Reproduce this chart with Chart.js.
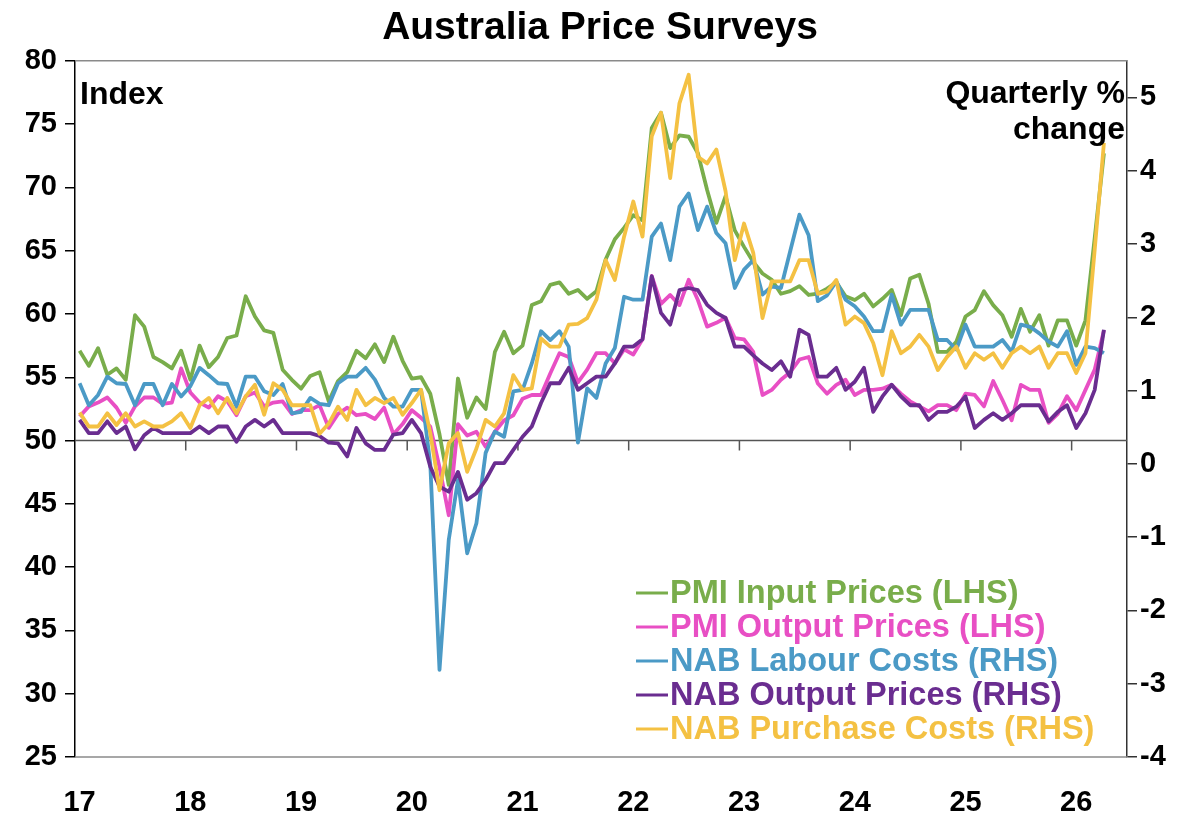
<!DOCTYPE html>
<html>
<head>
<meta charset="utf-8">
<title>Australia Price Surveys</title>
<script src="https://cdn.jsdelivr.net/npm/chart.js@4.4.1/dist/chart.umd.min.js"></script>
<style>
    body { margin: 0; background: #ffffff; }
    #wrap { width: 1200px; height: 837px; }
</style>
</head>
<body>
<div id="wrap"><canvas id="chart" width="1200" height="837"></canvas></div>
<script>
const FONT = '"Liberation Sans", Arial, sans-serif'

// x categories: Jan 2017 .. Jun 2026, year shown on January only
const month_names = ['Jan', 'Feb', 'Mar', 'Apr', 'May', 'Jun', 'Jul', 'Aug', 'Sep', 'Oct', 'Nov', 'Dec']
const year_labels = ['17', '18', '19', '20', '21', '22', '23', '24', '25', '26']
const last_year_months = 6

let months = []
year_labels.forEach((yy, y) => {
    let n = y === year_labels.length - 1 ? last_year_months : 12
    for (let m = 0; m < n; m++) {
        months.push(`${month_names[m]}-${yy}`)
    }
})

// PMI, index (LHS)
const pmi_input = [
    57.1, 55.9, 57.3, 55.2, 55.7, 54.8, 59.9, 59.0, 56.6, 56.2, 55.7, 57.1,
    54.8, 57.5, 55.8, 56.6, 58.1, 58.3, 61.4, 59.8, 58.7, 58.5, 55.6, 54.8,
    54.1, 55.1, 55.4, 53.1, 54.7, 55.4, 57.1, 56.5, 57.6, 56.2, 58.2, 56.3,
    54.9, 55.0, 53.7, 50.5, 46.5, 54.9, 51.8, 53.4, 52.5, 57.0, 58.6, 56.9,
    57.5, 60.7, 61.0, 62.3, 62.5, 61.6, 61.9, 61.2, 61.8, 64.3, 65.9, 66.8,
    67.8, 67.4, 74.7, 75.9, 73.1, 74.1, 74.0, 72.7, 69.8, 67.2, 69.3, 66.6,
    65.3, 64.1, 63.2, 62.7, 61.6, 61.8, 62.2, 61.5, 61.6, 62.0, 62.5, 61.4,
    61.1, 61.6, 60.6, 61.2, 61.9, 59.9, 62.8, 63.1, 60.8, 57.0, 57.0, 57.8,
    59.8, 60.3, 61.8, 60.7, 59.9, 58.2, 60.4, 58.6, 59.9, 57.5, 59.5, 59.5,
    57.5, 59.5, 66.0, 72.7
]
const pmi_output = [
    51.9, 52.7, 53.0, 53.4, 52.6, 51.4, 52.7, 53.4, 53.4, 52.9, 53.0, 55.7,
    53.8, 53.0, 52.6, 53.5, 53.1, 52.0, 53.5, 53.8, 52.7, 53.0, 53.1, 52.1,
    52.4, 52.4, 52.8, 51.0, 52.1, 52.6, 52.0, 52.1, 51.7, 52.6, 50.5, 51.3,
    52.4, 51.8, 51.1, 47.9, 44.1, 51.3, 50.4, 50.7, 49.5, 50.7, 51.6, 52.0,
    53.3, 53.6, 53.6, 55.3, 56.9, 56.6, 54.6, 55.6, 56.9, 56.9, 56.1, 57.2,
    56.8, 58.0, 63.0, 60.8, 61.5, 60.7, 62.7, 61.1, 59.0, 59.3, 59.7, 58.1,
    58.0, 57.0, 53.6, 54.0, 54.8, 55.4, 56.4, 56.6, 54.5, 53.7, 54.4, 54.8,
    53.6, 54.0, 54.0, 54.1, 54.4, 53.7, 53.1, 52.7, 52.3, 52.8, 52.8, 52.4,
    53.7, 53.6, 52.7, 54.7, 53.2, 51.6, 54.4, 54.0, 54.0, 51.4, 52.1, 53.5,
    52.4, 54.0, 55.6, 58.7
]

// NAB survey, quarterly % change (RHS)
const nab_labour = [
    1.10, 0.80, 0.94, 1.19, 1.10, 1.09, 0.80, 1.09, 1.09, 0.80, 1.09, 0.92,
    1.06, 1.31, 1.21, 1.10, 1.09, 0.78, 1.19, 1.19, 0.99, 0.94, 1.09, 0.69,
    0.71, 0.90, 0.82, 0.80, 1.10, 1.19, 1.19, 1.31, 1.15, 0.90, 0.78, 0.78,
    1.01, 1.01, 0.00, -2.81, -1.04, -0.22, -1.22, -0.81, 0.15, 0.44, 0.37, 0.99,
    1.01, 1.37, 1.81, 1.69, 1.81, 1.60, 0.29, 1.03, 0.90, 1.37, 1.58, 2.28,
    2.24, 2.24, 3.10, 3.28, 2.78, 3.51, 3.69, 3.19, 3.51, 3.15, 3.01, 2.40,
    2.65, 2.78, 2.31, 2.42, 2.40, 2.90, 3.40, 3.12, 2.22, 2.30, 2.49, 2.24,
    2.15, 2.01, 1.81, 1.81, 2.31, 1.90, 2.10, 2.10, 2.10, 1.69, 1.69, 1.56,
    1.90, 1.60, 1.60, 1.60, 1.69, 1.53, 1.90, 1.87, 1.78, 1.67, 1.60, 1.81,
    1.35, 1.60, 1.58, 1.51
]
const nab_output = [
    0.60, 0.42, 0.42, 0.58, 0.42, 0.51, 0.20, 0.39, 0.49, 0.42, 0.42, 0.42,
    0.42, 0.51, 0.42, 0.51, 0.51, 0.30, 0.51, 0.60, 0.51, 0.60, 0.42, 0.42,
    0.42, 0.42, 0.38, 0.29, 0.28, 0.10, 0.49, 0.28, 0.19, 0.19, 0.40, 0.42,
    0.60, 0.42, -0.04, -0.31, -0.38, -0.11, -0.49, -0.40, -0.22, 0.01, 0.01, 0.19,
    0.37, 0.51, 0.83, 1.10, 1.10, 1.31, 1.01, 1.10, 1.19, 1.19, 1.37, 1.60,
    1.60, 1.70, 2.56, 2.06, 1.90, 2.37, 2.40, 2.37, 2.17, 2.06, 1.99, 1.60,
    1.60, 1.48, 1.37, 1.28, 1.40, 1.19, 1.83, 1.76, 1.19, 1.19, 1.31, 1.01,
    1.12, 1.31, 0.71, 0.92, 1.08, 0.92, 0.80, 0.80, 0.60, 0.71, 0.71, 0.78,
    0.92, 0.49, 0.60, 0.69, 0.60, 0.69, 0.80, 0.80, 0.80, 0.58, 0.71, 0.80,
    0.49, 0.69, 1.01, 1.83
]
const nab_purchase = [
    0.70, 0.51, 0.51, 0.69, 0.53, 0.69, 0.51, 0.58, 0.51, 0.51, 0.58, 0.69,
    0.49, 0.80, 0.90, 0.69, 0.90, 0.69, 0.92, 1.08, 0.67, 1.10, 1.01, 0.80,
    0.80, 0.80, 0.41, 0.55, 0.78, 0.60, 1.01, 0.80, 0.90, 0.83, 0.90, 0.67,
    0.83, 1.01, 0.42, -0.36, 0.28, 0.42, -0.11, 0.21, 0.60, 0.51, 0.69, 1.21,
    1.01, 1.03, 1.71, 1.60, 1.60, 1.90, 1.91, 1.99, 2.24, 2.78, 2.51, 3.10,
    3.58, 3.10, 4.47, 4.79, 3.90, 4.92, 5.31, 4.19, 4.10, 4.29, 3.72, 2.78,
    3.28, 2.88, 1.99, 2.49, 2.49, 2.49, 2.78, 2.78, 2.32, 2.35, 2.51, 1.90,
    2.01, 1.92, 1.65, 1.21, 1.81, 1.51, 1.60, 1.76, 1.60, 1.28, 1.46, 1.60,
    1.31, 1.51, 1.42, 1.51, 1.31, 1.51, 1.60, 1.51, 1.60, 1.31, 1.51, 1.51,
    1.24, 1.51, 2.92, 4.38
]

const LEFT_MIN = 25
const LEFT_MAX = 80
const RIGHT_MIN = -4
const RIGHT_MAX = 5.5
const AXIS_CROSS = 50

const GREEN = '#79ad4b'
const PINK = '#e84fc4'
const BLUE = '#4b9ac6'
const PURPLE = '#6a2d90'
const YELLOW = '#f4c143'

function series(label, values, color, axis, order) {
    return {
        'label': label,
        'data': values,
        'yAxisID': axis,
        'borderColor': color,
        'backgroundColor': color,
        'borderWidth': 3.8,
        'borderJoinStyle': 'round',
        'pointRadius': 0,
        'tension': 0,
        'order': order
    }
}

const frame_plugin = {
    'id': 'frame',
    beforeDatasetsDraw(chart) {
        let ctx = chart.ctx
        let area = chart.chartArea
        let x_scale = chart.scales.x
        let y_cross = chart.scales.y.getPixelForValue(AXIS_CROSS)
        let half = (x_scale.getPixelForValue(1) - x_scale.getPixelForValue(0)) / 2
        ctx.save()
        ctx.lineWidth = 1.5
        ctx.strokeStyle = '#8a8a8a'
        ctx.beginPath()
        ctx.moveTo(area.left, area.top)
        ctx.lineTo(area.right, area.top)
        ctx.moveTo(area.left, area.bottom)
        ctx.lineTo(area.right, area.bottom)
        ctx.stroke()
        // category axis crosses the LHS at 50
        ctx.strokeStyle = '#555555'
        ctx.beginPath()
        ctx.moveTo(area.left, y_cross)
        ctx.lineTo(area.right, y_cross)
        months.forEach((m, i) => {
            if (i > 0 && i % 12 === 0) {
                let x = x_scale.getPixelForValue(i) - half
                ctx.moveTo(x, y_cross)
                ctx.lineTo(x, y_cross + 10)
            }
        })
        ctx.stroke()
        ctx.restore()
    },
    afterDatasetsDraw(chart) {
        let ctx = chart.ctx
        let area = chart.chartArea
        ctx.save()
        ctx.fillStyle = '#000000'
        ctx.font = `bold 32px ${FONT}`
        ctx.textBaseline = 'middle'
        ctx.textAlign = 'left'
        ctx.fillText('Index', area.left + 5, 95)
        ctx.textAlign = 'right'
        ctx.fillText('Quarterly %', area.right - 2, 94)
        ctx.fillText('change', area.right - 2, 130)

        ctx.font = `bold 32.5px ${FONT}`
        ctx.textAlign = 'left'
        chart.data.datasets.forEach((ds, i) => {
            let y = 593 + i * 34
            ctx.strokeStyle = ds.borderColor
            ctx.lineWidth = 3
            ctx.beginPath()
            ctx.moveTo(636, y)
            ctx.lineTo(668, y)
            ctx.stroke()
            ctx.fillStyle = ds.borderColor
            ctx.fillText(ds.label, 670, y + 1)
        })
        ctx.restore()
    }
}

function tick_font() {
    return { 'family': FONT, 'size': 29, 'weight': 'bold' }
}

new Chart(document.getElementById('chart').getContext('2d'), {
    'type': 'line',
    'data': {
        'labels': months,
        'datasets': [
            series('PMI Input Prices (LHS)', pmi_input, GREEN, 'y', 5),
            series('PMI Output Prices (LHS)', pmi_output, PINK, 'y', 4),
            series('NAB Labour Costs (RHS)', nab_labour, BLUE, 'y1', 3),
            series('NAB Output Prices (RHS)', nab_output, PURPLE, 'y1', 2),
            series('NAB Purchase Costs (RHS)', nab_purchase, YELLOW, 'y1', 1)
        ]
    },
    'options': {
        'responsive': false,
        'animation': false,
        'events': [],
        'layout': { 'padding': 0 },
        'plugins': {
            'legend': { 'display': false },
            'tooltip': { 'enabled': false },
            'title': {
                'display': true,
                'text': 'Australia Price Surveys',
                'color': '#000000',
                'font': { 'family': FONT, 'size': 39, 'weight': 'bold' },
                'padding': { 'top': 5, 'bottom': 9 }
            }
        },
        'scales': {
            'x': {
                'type': 'category',
                'offset': true,
                'grid': { 'display': false, 'drawTicks': false },
                'border': { 'display': false },
                'ticks': {
                    'autoSkip': false,
                    'maxRotation': 0,
                    'padding': 29,
                    'color': '#000000',
                    'font': tick_font(),
                    'callback': function (value, index) {
                        return index % 12 === 0 ? months[index].slice(4) : null
                    }
                },
                afterFit(scale) { scale.height = 80 }
            },
            'y': {
                'position': 'left',
                'min': LEFT_MIN,
                'max': LEFT_MAX,
                'ticks': { 'stepSize': 5, 'padding': 8, 'color': '#000000', 'font': tick_font() },
                'grid': { 'drawOnChartArea': false, 'drawTicks': true, 'tickLength': 10, 'color': '#000000', 'lineWidth': 1.5 },
                'border': { 'display': true, 'color': '#000000', 'width': 1.5 },
                afterFit(scale) { scale.width = 75 }
            },
            'y1': {
                'position': 'right',
                'min': RIGHT_MIN,
                'max': RIGHT_MAX,
                'ticks': { 'stepSize': 1, 'includeBounds': false, 'padding': 3, 'color': '#000000', 'font': tick_font() },
                'grid': { 'drawOnChartArea': false, 'drawTicks': true, 'tickLength': 10, 'color': '#333333', 'lineWidth': 1.5 },
                'border': { 'display': true, 'color': '#333333', 'width': 1.5 },
                afterFit(scale) { scale.width = 73 }
            }
        }
    },
    'plugins': [frame_plugin]
})
</script>
</body>
</html>
